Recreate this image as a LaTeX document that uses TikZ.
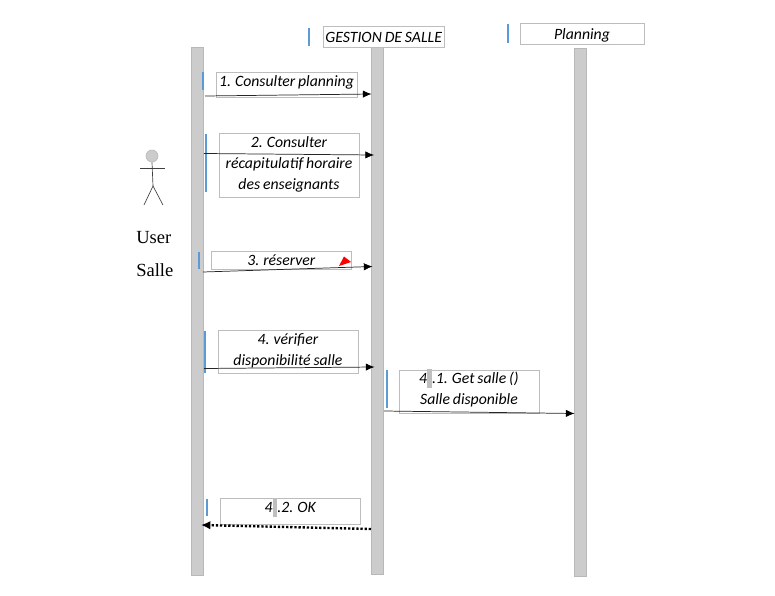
\documentclass[tikz,border=0pt]{standalone}
\usepackage{fontspec}
\setmainfont{Carlito}[WordSpace=0.8]
\newfontfamily\serifname{Liberation Serif}
\usetikzlibrary{arrows.meta}
\definecolor{lifegrey}{HTML}{CCCCCC}
\definecolor{lifeedge}{HTML}{B8B8B8}
\definecolor{boxedge}{HTML}{BDBDBD}
\definecolor{barblue}{HTML}{5B9BD5}
\definecolor{hlgrey}{HTML}{BFBFBF}
\newcommand{\hlgap}{\textcolor{hlgrey}{\rule[-3.6pt]{3.6pt}{14pt}}}
\newsavebox{\liftbox}
\newcommand{\liftby}[2]{\sbox{\liftbox}{\begin{tabular}{@{}c@{}}#2\end{tabular}}\raisebox{#1}[\ht\liftbox][\dp\liftbox]{\usebox{\liftbox}}}
\tikzset{
  x=0.75pt,y=-0.75pt,
  lifeline/.style={draw=lifeedge,line width=0.5pt,fill=lifegrey},
  msgbox/.style={draw=boxedge,line width=0.6pt,fill=white,inner sep=0pt,align=center,
    font=\fontsize{11.8pt}{15.75pt}\selectfont\itshape},
  bluebar/.style={draw=barblue,line width=1.3pt},
  msg/.style={draw=black!85,line width=0.55pt,-{Latex[length=6.5pt,width=5.5pt,black]}},
  reply/.style={draw=black,line width=1.8pt,dash pattern=on 1.7pt off 1.4pt,-{Latex[length=7pt,width=6.5pt,black]}},
  stick/.style={draw=black!75,line width=0.5pt},
  actorlabel/.style={inner sep=0pt,anchor=west,font=\serifname\fontsize{13.9pt}{15pt}\selectfont}
}
\newcommand{\msgnode}[6]{\node[msgbox,minimum width=#4*0.75pt,minimum height=#5*0.75pt] (#1) at (#2,#3) {#6};}
\begin{document}
\begin{tikzpicture}
\useasboundingbox (0,0) rectangle (775,596);
% lifelines
\path[lifeline] (191,47.5) rectangle (203,575);
\path[lifeline] (371.5,47) rectangle (383,574);
\path[lifeline] (574.5,48.5) rectangle (586,576);
% actor
\node[stick,circle,fill=lifegrey,draw=lifeedge,minimum size=9pt,inner sep=0pt] (head) at (152,156) {};
\coordinate (hip) at (153,186);
\coordinate (armL) at (140,168.5);
\coordinate (armR) at (165,168.5);
\coordinate (legL) at (144,205);
\coordinate (legR) at (163,205);
\draw[stick] (head.south) -- (hip);
\draw[stick] (armL) -- (armR);
\draw[stick] (legL) -- (hip) -- (legR);
\node[actorlabel] (user) at (136,237.5) {User};
\node[actorlabel] (salle) at (136,270) {Salle};
% header boxes
\msgnode{gestion}{383.7}{37}{121}{18}{\liftby{-0.8pt}{GESTION DE SALLE}}
\msgnode{planning}{582}{33.8}{124}{18.5}{\liftby{-0.8pt}{Planning}}
% message boxes
\msgnode{m1}{286.5}{84.5}{141}{25}{\liftby{1.5pt}{1. Consulter planning}}
\msgnode{m2}{289}{165}{140}{64}{\liftby{0.6pt}{2. Consulter\\récapitulatif horaire\\des enseignants}}
\msgnode{m3}{281.3}{260}{140.5}{18}{3. réserver}
\msgnode{m4}{288}{351.5}{140}{43}{\liftby{0.6pt}{4. vérifier\\disponibilité salle}}
\msgnode{m41}{469}{392}{140}{43}{\liftby{1.8pt}{4\hlgap.1. Get salle ()\\Salle disponible}}
\msgnode{m42}{290.3}{511}{140.5}{26}{\liftby{2.4pt}{4\hlgap.2. OK}}
% blue bars
\draw[bluebar] (309,28) -- (309,46);
\draw[bluebar] (508,24) -- (508,43);
\draw[bluebar] (203,72) -- (203,90);
\draw[bluebar] (206,134) -- (206,192);
\draw[bluebar] (199,252) -- (199,269);
\draw[bluebar] (205,331) -- (205,373);
\draw[bluebar] (387,370) -- (387,408);
\draw[bluebar] (207,499) -- (207,516);
% red mark
\fill[red] (339,266) -- (344,256.5) -- (351,262) -- cycle;
% connector ends
\coordinate (a1) at (205,96); \coordinate (b1) at (371.5,94);
\coordinate (a2) at (204,153.5); \coordinate (b2) at (374,155);
\coordinate (a3) at (203,272); \coordinate (b3) at (372.5,266.5);
\coordinate (a4) at (204,368.5); \coordinate (b4) at (374.5,367);
\coordinate (a5) at (384,411); \coordinate (b5) at (574.5,413.5);
\coordinate (a6) at (371,529); \coordinate (b6) at (201,525);
\draw[msg] (a1) -- (b1);
\draw[msg] (a2) -- (b2);
\draw[msg] (a3) -- (b3);
\draw[msg] (a4) -- (b4);
\draw[msg] (a5) -- (b5);
\draw[reply] (a6) -- (b6);
\end{tikzpicture}
\end{document}
